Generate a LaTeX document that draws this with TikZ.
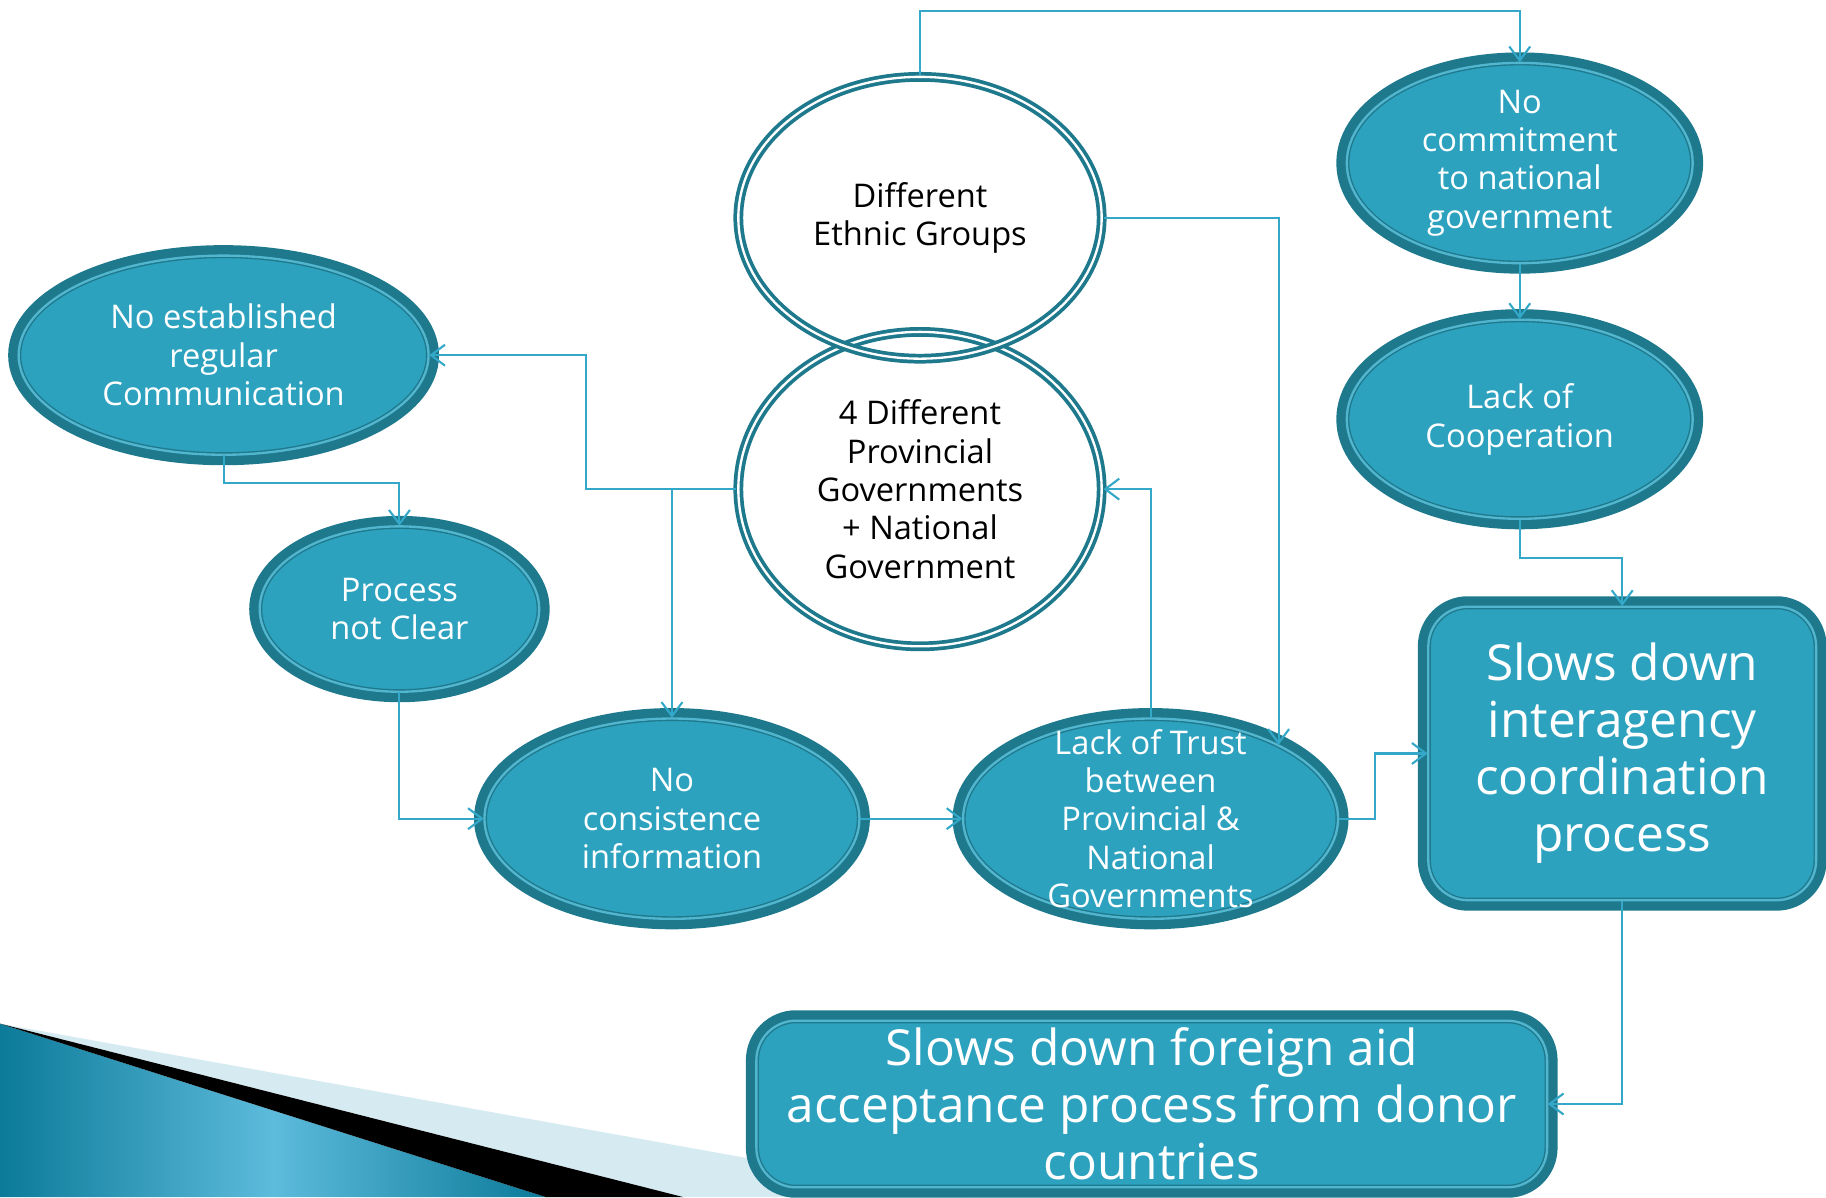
\documentclass[tikz,border=0pt]{standalone}
\usepackage{fontspec}
\setmainfont{Open Sans}
\usetikzlibrary{shapes.geometric,arrows.meta}

\definecolor{tealfill}{HTML}{2DA2BF}
\definecolor{ringdark}{HTML}{1F798D}
\definecolor{ringlight}{HTML}{52B6CF}
\definecolor{linecol}{HTML}{33A8C8}
\definecolor{decodark}{HTML}{0C7A99}
\definecolor{decolight}{HTML}{5DBBDC}
\definecolor{decopale}{HTML}{D6EAF1}

\begin{document}
\begin{tikzpicture}[x=0.5pt,y=-0.5pt,
    cause/.style={ellipse, inner sep=0pt, fill=tealfill,
        preaction={draw=ringdark, line width=9pt},
        draw=ringdark, line width=0.6pt, double=ringlight, double distance=1pt},
    origin/.style={ellipse, inner sep=0pt, draw=ringdark, line width=1.6pt,
        double=white, double distance=1pt},
    effect/.style={rectangle, rounded corners=17pt, inner sep=0pt, fill=tealfill,
        preaction={draw=ringdark, line width=9pt},
        draw=ringdark, line width=0.6pt, double=ringlight, double distance=1pt,
        text=white, align=center, font=\fontsize{21.3}{24.5}\selectfont},
    wtext/.style={text=white, align=center, font=\fontsize{14}{16.5}\selectfont},
    btext/.style={text=black, align=center, font=\fontsize{14}{16.5}\selectfont},
    conn/.style={draw=linecol, line width=0.9pt, -{Straight Barb[length=6pt,width=9pt]}}]
    \useasboundingbox (0,0) rectangle (1568,1028);

    \shade[left color=decodark, right color=decodark, middle color=decolight]
        (0,879) -- (469,1028) -- (0,1028) -- cycle;
    \fill[decopale] (0,879) -- (828,1028) -- (587,1028) -- cycle;
    \fill[black] (0,879) -- (587,1028) -- (469,1028) -- cycle;

    \node[origin, minimum width=156pt, minimum height=135pt] (prov) at (790,420)
        [label={[btext]center:{4 Different\\Provincial\\Governments\\+ National\\Government}}] {};
    \node[origin, minimum width=156pt, minimum height=121pt] (eth) at (790,187)
        [label={[btext]center:{Different\\Ethnic Groups}}] {};

    \node[cause, minimum width=176pt, minimum height=85.5pt] (noest) at (192,305)
        [label={[wtext]center:{No established\\regular\\Communication}}] {};
    \node[cause, minimum width=120pt, minimum height=71pt] (proc) at (343,523)
        [label={[wtext]center:{Process\\not Clear}}] {};
    \node[cause, minimum width=161pt, minimum height=86pt] (cons) at (577,703)
        [label={[wtext]center:{No\\consistence\\information}}] {};
    \node[cause, minimum width=161pt, minimum height=86pt] (trust) at (988,703)
        [label={[wtext]center:{Lack of Trust\\between\\Provincial \&\\National\\Governments}}] {};
    \node[cause, minimum width=148.5pt, minimum height=86pt] (commit) at (1305,140)
        [label={[wtext]center:{No\\commitment\\to national\\government}}] {};
    \node[cause, minimum width=148.5pt, minimum height=85.5pt] (coop) at (1305,360)
        [label={[wtext]center:{Lack of\\Cooperation}}] {};

    \node[effect, minimum width=166.5pt, minimum height=126pt] (inter) at (1393,647)
        {Slows down\\interagency\\coordination\\process};
    \node[effect, minimum width=339.5pt, minimum height=71.5pt] (aid) at (989,948)
        {Slows down foreign aid\\acceptance process from donor\\countries};

    \draw[conn] (eth.north) -- ++(0,-55) -| (commit.north);
    \draw[conn] (eth.east) -| (trust.30);
    \draw[conn] (commit.south) -- (coop.north);
    \draw[conn] (coop.south) -- ++(0,33) -| (inter.north);
    \draw[conn] (prov.west) -- ++(-129,0) |- (noest.east);
    \draw[conn] (prov.west -| cons.north) -- (cons.north);
    \draw[conn] (noest.south) -- ++(0,24) -| (proc.north);
    \draw[conn] (proc.south) |- (cons.west);
    \draw[conn] (cons.east) -- (trust.west);
    \draw[conn] (trust.north) |- (prov.east);
    \draw[conn] (trust.east) -- ++(31,0) |- (inter.west);
    \draw[conn] (inter.south) |- (aid.east);
\end{tikzpicture}
\end{document}
